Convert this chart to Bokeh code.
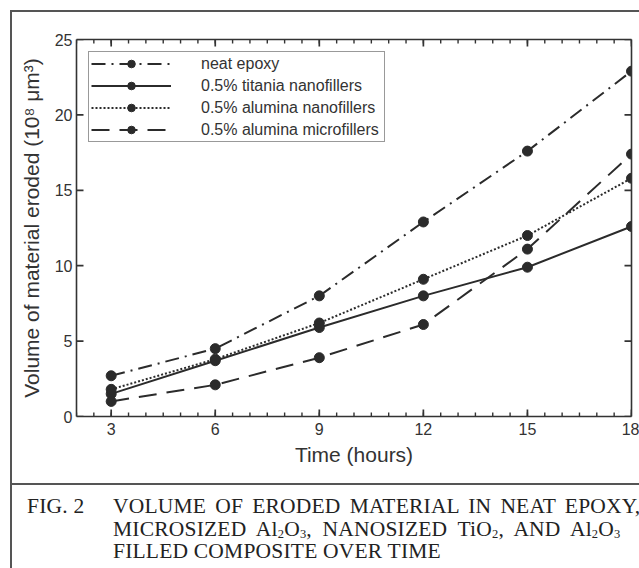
from bokeh.plotting import figure
from bokeh.models import LinearAxis, FixedTicker, Legend, LegendItem, Div
from bokeh.layouts import column
from bokeh.embed import file_html
from bokeh.resources import INLINE
import numpy as np

# ---- data ----
time_hours = [3, 6, 9, 12, 15, 18]
neat_epoxy = [2.7, 4.5, 8.0, 12.9, 17.6, 22.9]
titania_nano = [1.5, 3.7, 5.9, 8.0, 9.9, 12.6]
alumina_nano = [1.8, 3.8, 6.2, 9.1, 12.0, 15.8]
alumina_micro = [1.0, 2.1, 3.9, 6.1, 11.1, 17.4]

series_names = ["neat epoxy", "0.5% titania nanofillers",
                "0.5% alumina nanofillers", "0.5% alumina microfillers"]
x_ticks = [3, 6, 9, 12, 15, 18]
y_ticks = [0, 5, 10, 15, 20, 25]
X_MIN, X_MAX = 2, 18
Y_MIN, Y_MAX = 0, 25

LINE = "#2b2b2b"
AX = "#333333"
FONT = "Liberation Sans"

W, H = 627, 471
BL, BR, BT, BB = 64, 8, 27, 67

p = figure(width=W, height=H, x_range=(X_MIN, X_MAX), y_range=(Y_MIN, Y_MAX),
           output_backend="svg", toolbar_location=None,
           min_border_left=BL, min_border_right=BR, min_border_top=BT,
           min_border_bottom=BB, x_axis_label="Time (hours)",
           y_axis_label="Volume of material eroded (10⁸ μm³)")
p.xgrid.visible = False
p.ygrid.visible = False
p.outline_line_color = None
p.background_fill_color = None
p.border_fill_color = None

minor_x = list(np.arange(X_MIN, X_MAX + 0.01, 0.5))

def style_axis(ax, labels=True):
    ax.axis_line_color = AX
    ax.axis_line_width = 1.6
    ax.major_tick_line_color = AX
    ax.minor_tick_line_color = AX
    ax.major_tick_line_width = 1.5
    ax.minor_tick_line_width = 1.2
    ax.major_tick_in = 0
    ax.major_tick_out = 0
    ax.minor_tick_in = 0
    ax.minor_tick_out = 0
    ax.major_label_text_font = FONT
    ax.major_label_text_font_size = "16px"
    ax.major_label_text_color = "#333333"
    ax.axis_label_text_font = FONT
    ax.axis_label_text_font_size = "21px"
    ax.axis_label_text_font_style = "normal"
    ax.axis_label_text_color = "#333333"
    if not labels:
        ax.major_label_text_font_size = "0px"
        ax.major_label_text_alpha = 0

xb = p.xaxis[0]
xb.ticker = FixedTicker(ticks=x_ticks, minor_ticks=minor_x)
style_axis(xb)
xb.major_label_standoff = 6
xb.axis_label_standoff = 5

yl = p.yaxis[0]
yl.ticker = FixedTicker(ticks=y_ticks)
style_axis(yl)
yl.major_label_standoff = 4
yl.axis_label_standoff = 9

xt = LinearAxis(ticker=FixedTicker(ticks=x_ticks))
style_axis(xt, labels=False)
p.add_layout(xt, "above")
yr = LinearAxis(ticker=FixedTicker(ticks=y_ticks))
style_axis(yr, labels=False)
p.add_layout(yr, "right")

# inward tick marks drawn as NaN-separated line paths (pixel lengths -> data units)
px_x = (X_MAX - X_MIN) / (W - BL - BR)
px_y = (Y_MAX - Y_MIN) / (H - BT - BB)
MAJ, MIN_ = 7, 4

def vticks(ticks, length_px):
    xs, ys = [], []
    for yv, sgn in ((Y_MIN, 1), (Y_MAX, -1)):
        for t in ticks:
            xs += [t, t, np.nan]
            ys += [yv, yv + sgn * length_px * px_y, np.nan]
    return xs, ys

def hticks(ticks, length_px):
    xs, ys = [], []
    for xv, sgn in ((X_MIN, 1), (X_MAX, -1)):
        for t in ticks:
            xs += [xv, xv + sgn * length_px * px_x, np.nan]
            ys += [t, t, np.nan]
    return xs, ys

mx, my = vticks(minor_x, MIN_)
p.line(mx, my, line_color=AX, line_width=1.4)
Mx, My = vticks(x_ticks, MAJ)
p.line(Mx, My, line_color=AX, line_width=1.7)
Hx, Hy = hticks(y_ticks, MAJ)
p.line(Hx, Hy, line_color=AX, line_width=1.7)

dashes = ["14 6 2 6", "solid", "2 2", "18 10"]
all_series = [neat_epoxy, titania_nano, alumina_nano, alumina_micro]
items = []
for name, ys, dash in zip(series_names, all_series, dashes):
    lr = p.line(time_hours, ys, line_color=LINE, line_width=2, line_dash=dash)
    sr = p.scatter(time_hours, ys, size=10, marker="circle",
                   fill_color=LINE, line_color=LINE)
    items.append(LegendItem(label=name, renderers=[lr, sr]))

legend = Legend(items=items, location="top_left")
legend.margin = 12
legend.padding = 2
legend.spacing = 3
legend.glyph_width = 80
legend.glyph_height = 19
legend.label_height = 19
legend.label_standoff = 30
legend.label_width = 181
legend.label_text_font = FONT
legend.label_text_font_size = "16px"
legend.label_text_color = "#333333"
legend.border_line_color = AX
legend.border_line_width = 1.5
legend.background_fill_color = "white"
legend.background_fill_alpha = 1
p.add_layout(legend)

sub = '<sub style="font-size:12.5px;vertical-align:-2px;line-height:0">%s</sub>'
caption_html = (
    '<div style="position:relative;font-family:\'Liberation Serif\';font-size:21.5px;'
    'letter-spacing:0.2px;line-height:22.5px;white-space:nowrap;'
    'color:#222;padding-top:10px">'
    '<div style="position:absolute;left:15px;top:10px">FIG. 2</div>'
    '<div style="margin-left:101px">'
    '<span style="word-spacing:3.5px">VOLUME OF ERODED MATERIAL IN NEAT EPOXY,</span><br>'
    '<span style="word-spacing:5px">MICROSIZED Al' + sub % '2' + 'O' + sub % '3'
    + ', NANOSIZED TiO' + sub % '2' + ', AND Al' + sub % '2' + 'O' + sub % '3'
    + '</span><br>FILLED COMPOSITE OVER TIME</div></div>'
)
cap = Div(text=caption_html, width=627, height=85, margin=0,
          styles={"border-top": "2px solid #555", "overflow": "hidden"})

layout = column(p, cap, spacing=0, margin=(10, 0, 0, 10),
                styles={"border-left": "2px solid #555",
                        "border-top": "2px solid #555"})

open("out.html", "w").write(file_html(layout, INLINE))
